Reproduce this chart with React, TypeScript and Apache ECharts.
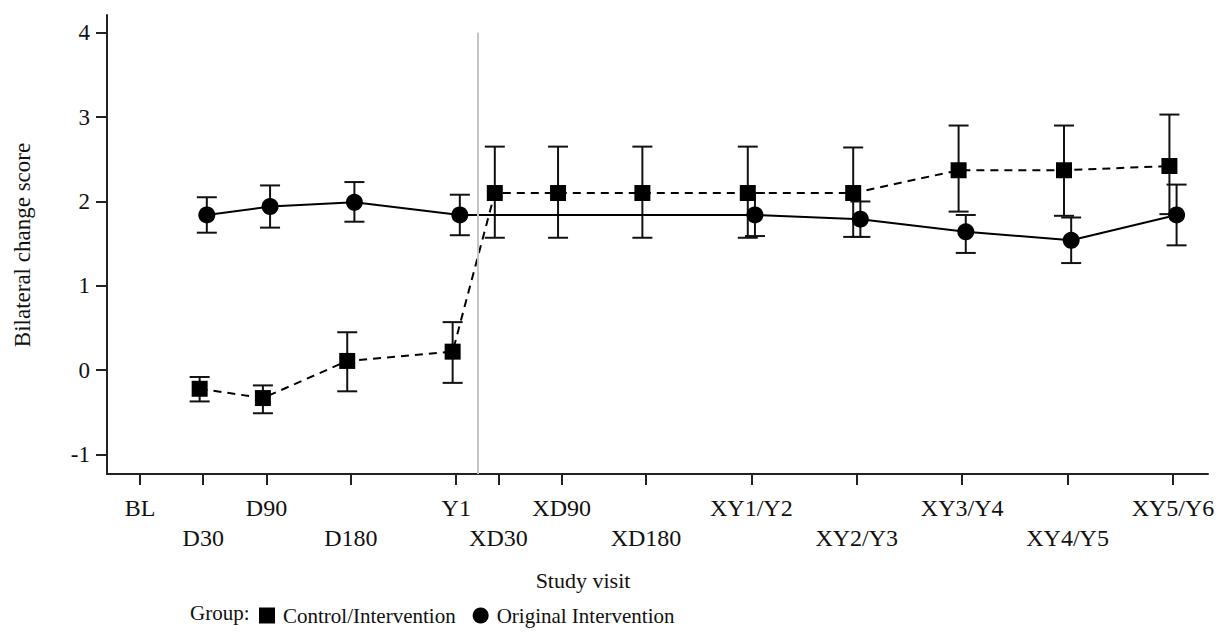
import React, { useEffect, useRef } from "react";
import * as echarts from "echarts";

const visits = ["BL", "D30", "D90", "D180", "Y1", "XD30", "XD90", "XD180", "XY1/Y2", "XY2/Y3", "XY3/Y4", "XY4/Y5", "XY5/Y6"];
const visitPos = [0, 3, 6, 10, 15, 17, 20, 24, 29, 34, 39, 44, 49];
const crossoverPos = 16;
const yTicks = [-1, 0, 1, 2, 3, 4];

const controlMean = [null, -0.22, -0.33, 0.11, 0.22, 2.1, 2.1, 2.1, 2.1, 2.1, 2.37, 2.37, 2.42];
const controlLo = [null, -0.37, -0.51, -0.25, -0.15, 1.57, 1.57, 1.57, 1.57, 1.58, 1.88, 1.83, 1.85];
const controlHi = [null, -0.08, -0.18, 0.45, 0.57, 2.65, 2.65, 2.65, 2.65, 2.64, 2.9, 2.9, 3.03];

const originalMean = [null, 1.84, 1.94, 1.99, 1.84, null, null, null, 1.84, 1.79, 1.64, 1.54, 1.84];
const originalLo = [null, 1.63, 1.69, 1.76, 1.6, null, null, null, 1.59, 1.58, 1.39, 1.27, 1.48];
const originalHi = [null, 2.05, 2.19, 2.23, 2.08, null, null, null, 2.1, 2.0, 1.84, 1.81, 2.2];

const FONT = '"Liberation Serif", "Times New Roman", serif';
const INK = "#111";

export default function App() {
  const ref = useRef<HTMLDivElement>(null);
  useEffect(() => {
    document.body.style.margin = "0";
    const chart = echarts.init(ref.current!, null, { renderer: "svg" });
    const dodge = 0.17;
    const pts = (mean: (number | null)[], off: number) =>
      visitPos.map((p, i) => (mean[i] == null ? null : [p + off, mean[i]])).filter((d) => d) as number[][];
    const bars = (lo: (number | null)[], hi: (number | null)[], off: number) =>
      visitPos.map((p, i) => (lo[i] == null ? null : [p + off, lo[i], hi[i]])).filter((d) => d) as number[][];

    const errRender = (params: any, api: any) => {
      const x = api.value(0);
      const a = api.coord([x, api.value(1)]);
      const b = api.coord([x, api.value(2)]);
      const hw = 10;
      const st = { stroke: INK, lineWidth: 2 };
      return {
        type: "group",
        children: [
          { type: "line", shape: { x1: a[0], y1: a[1], x2: b[0], y2: b[1] }, style: st },
          { type: "line", shape: { x1: a[0] - hw, y1: a[1], x2: a[0] + hw, y2: a[1] }, style: st },
          { type: "line", shape: { x1: b[0] - hw, y1: b[1], x2: b[0] + hw, y2: b[1] }, style: st },
        ],
      };
    };

    const labelFor = (v: number) => {
      const i = visitPos.indexOf(Math.round(v));
      if (i < 0) return "";
      return i % 2 === 1 ? "\n" + visits[i] : visits[i];
    };

    chart.setOption({
      animation: false,
      grid: { left: 107, right: 11, top: 15, bottom: 161 },
      xAxis: {
        type: "value",
        min: -1.565,
        max: 50.66,
        splitLine: { show: false },
        axisLine: { onZero: false, lineStyle: { color: "#222", width: 2 } },
        axisTick: { show: true, customValues: visitPos, length: 11, lineStyle: { color: "#222", width: 2 } },
        axisLabel: {
          customValues: visitPos,
          formatter: (v: number) => labelFor(v),
          fontFamily: FONT,
          fontSize: 24,
          color: INK,
          lineHeight: 30,
          margin: 19,
        },
      },
      yAxis: {
        type: "value",
        min: -1.23,
        max: 4.21,
        splitLine: { show: false },
        axisLine: { show: true, onZero: false, lineStyle: { color: "#222", width: 2 } },
        axisTick: { show: true, customValues: yTicks, length: 11, lineStyle: { color: "#222", width: 2 } },
        axisLabel: { customValues: yTicks, fontFamily: FONT, fontSize: 23, color: INK, margin: 17 },
      },
      legend: {
        left: 254,
        top: 600,
        itemWidth: 16,
        itemHeight: 16,
        itemGap: 17,
        textStyle: { fontFamily: FONT, fontSize: 21, color: INK, padding: [0, 0, 0, 3] },
        data: [
          { name: "Control/Intervention", icon: "rect" },
          { name: "Original Intervention", icon: "circle" },
        ],
      },
      graphic: [
        {
          type: "text",
          x: 22,
          y: 245,
          rotation: Math.PI / 2,
          style: { text: "Bilateral change score", fontFamily: FONT, fontSize: 23, fill: INK, align: "center", verticalAlign: "middle" },
        },
        {
          type: "text",
          x: 583,
          y: 580,
          style: { text: "Study visit", fontFamily: FONT, fontSize: 22, fill: INK, align: "center", verticalAlign: "middle" },
        },
        {
          type: "text",
          x: 190,
          y: 613,
          style: { text: "Group:", fontFamily: FONT, fontSize: 21, fill: INK, align: "left", verticalAlign: "middle" },
        },
      ],
      series: [
        {
          type: "custom",
          name: "ctrlErr",
          renderItem: errRender,
          data: bars(controlLo, controlHi, -dodge),
          encode: { x: 0, y: [1, 2] },
          z: 2,
        },
        {
          type: "custom",
          name: "origErr",
          renderItem: errRender,
          data: bars(originalLo, originalHi, dodge),
          encode: { x: 0, y: [1, 2] },
          z: 2,
        },
        {
          type: "line",
          name: "Control/Intervention",
          data: pts(controlMean, -dodge),
          symbol: "rect",
          symbolSize: 16,
          itemStyle: { color: "#000" },
          lineStyle: { color: "#000", width: 2, type: [8, 6] },
          z: 3,
          markLine: {
            silent: true,
            symbol: "none",
            label: { show: false },
            lineStyle: { color: "#c4c4c4", width: 2, type: "solid" },
            data: [[{ coord: [crossoverPos, -1.23] }, { coord: [crossoverPos, 4] }]],
          },
        },
        {
          type: "line",
          name: "Original Intervention",
          data: pts(originalMean, dodge),
          symbol: "circle",
          symbolSize: 17,
          itemStyle: { color: "#000" },
          lineStyle: { color: "#000", width: 2, type: "solid" },
          z: 3,
        },
      ],
    });
    return () => chart.dispose();
  }, []);
  return <div ref={ref} style={{ width: 1219, height: 635 }} />;
}
